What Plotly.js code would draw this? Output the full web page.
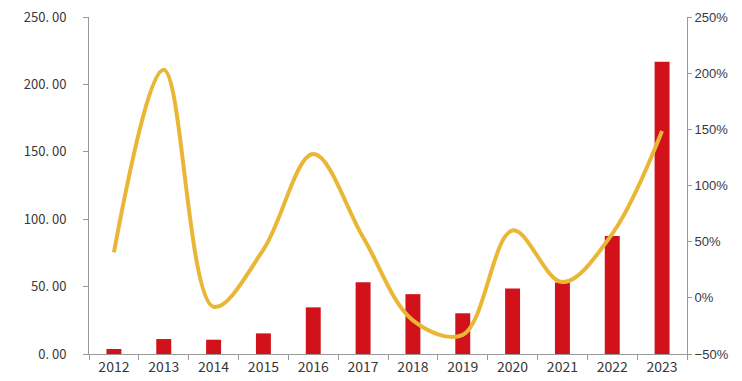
<!DOCTYPE html>
<html>
<head>
<meta charset="utf-8">
<script src="https://cdn.plot.ly/plotly-3.0.1.min.js"></script>
<style>html,body{margin:0;padding:0;background:#fff;}#chart{width:742px;height:381px;}</style>
</head>
<body>
<div id="chart"></div>
<script>
const years = ['2012','2013','2014','2015','2016','2017','2018','2019','2020','2021','2022','2023'];
const barValues = [3.7, 11.1, 10.6, 15.3, 34.6, 53.2, 44.4, 30.2, 48.5, 53.0, 87.5, 216.8];
const growthPct = [40.5, 203, -8, 43, 128, 54, -20, -33, 60, 14, 57, 148.5];
const leftTickVals = [0, 50, 100, 150, 200, 250];
const leftTickText = ['0. 00', '50. 00', '100. 00', '150. 00', '200. 00', '250. 00'];
const rightTickVals = [-50, 0, 50, 100, 150, 200, 250];
const rightTickText = ['\u221250%', '0%', '50%', '100%', '150%', '200%', '250%'];

const data = [
  {type: 'bar', x: years, y: barValues, marker: {color: '#D2121B'}, width: 0.3, yaxis: 'y', hoverinfo: 'x+y'},
  {type: 'scatter', mode: 'lines', x: years, y: growthPct, yaxis: 'y2',
   line: {color: '#E9B735', width: 4, shape: 'spline', smoothing: 1}}
];
const layout = {
  width: 742, height: 381,
  margin: {l: 89, r: 55, t: 17, b: 27},
  showlegend: false,
  paper_bgcolor: '#fff', plot_bgcolor: '#fff',
  xaxis: {
    type: 'category', showline: true, linecolor: '#9a9a9a', linewidth: 1,
    ticks: 'outside', tickson: 'boundaries', ticklen: 5, tickcolor: '#9a9a9a',
    showgrid: false, zeroline: false,
    tickfont: {family: 'Noto Sans CJK SC, DejaVu Sans', size: 14, color: '#383838'}
  },
  yaxis: {
    range: [0, 250], tickvals: leftTickVals, ticktext: leftTickText,
    showline: true, linecolor: '#9a9a9a', linewidth: 1,
    ticks: 'outside', ticklen: 5, tickcolor: '#9a9a9a',
    showgrid: false, zeroline: false, ticklabelstandoff: 14,
    tickfont: {family: 'Noto Sans CJK SC, DejaVu Sans', size: 13, color: '#383838'}
  },
  yaxis2: {
    range: [-50, 250], tickvals: rightTickVals, ticktext: rightTickText,
    overlaying: 'y', side: 'right',
    showline: true, linecolor: '#9a9a9a', linewidth: 1,
    ticks: 'outside', ticklen: 4, tickcolor: '#9a9a9a',
    showgrid: false, zeroline: false,
    tickfont: {family: 'Liberation Sans, Arial', size: 13, color: '#383838'}
  }
};
Plotly.newPlot('chart', data, layout, {displayModeBar: false, staticPlot: true});
</script>
</body>
</html>
